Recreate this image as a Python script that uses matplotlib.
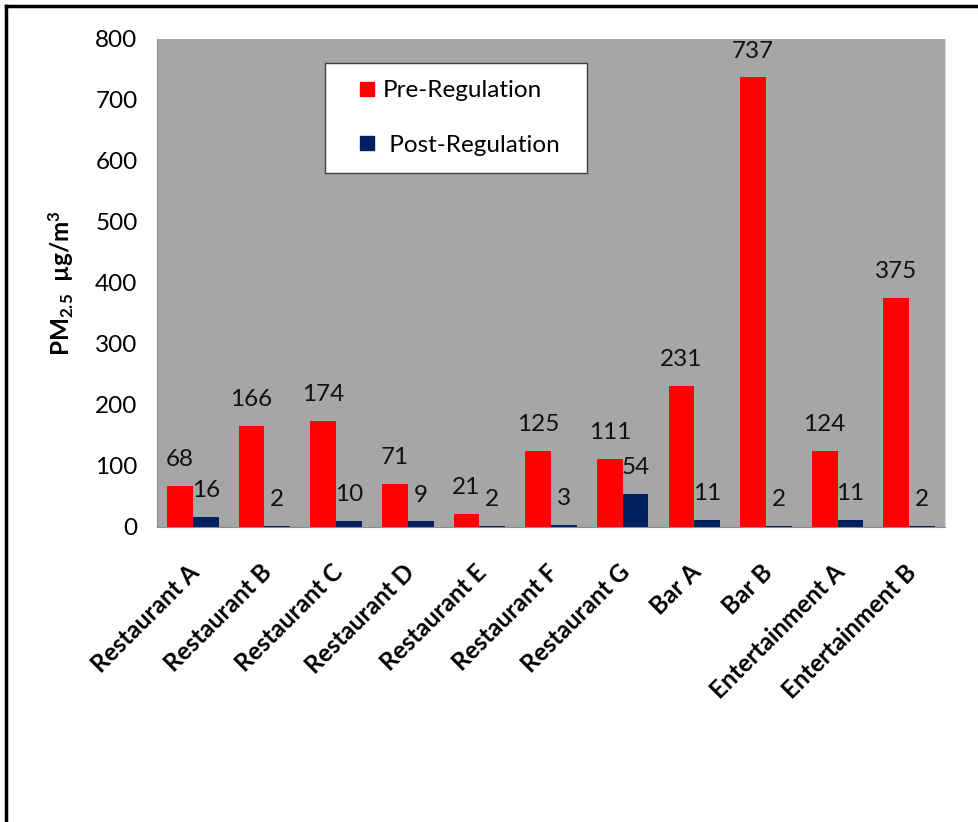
import matplotlib
matplotlib.use("Agg")
import matplotlib.pyplot as plt
import matplotlib.transforms as mtransforms
from matplotlib.lines import Line2D
import numpy as np

# Data
venues = ["Restaurant A", "Restaurant B", "Restaurant C", "Restaurant D",
          "Restaurant E", "Restaurant F", "Restaurant G", "Bar A", "Bar B",
          "Entertainment A", "Entertainment B"]
pre_regulation = [68, 166, 174, 71, 21, 125, 111, 231, 737, 124, 375]
post_regulation = [16, 2, 10, 9, 2, 3, 54, 11, 2, 11, 2]
y_ticks = [0, 100, 200, 300, 400, 500, 600, 700, 800]

plt.rcParams["font.family"] = ["Lato", "DejaVu Sans"]
plt.rcParams["mathtext.default"] = "regular"

RED = "#FF0000"
NAVY = "#002060"
FS = 17.5

fig = plt.figure(figsize=(9.79, 8.22), dpi=100)
ax = fig.add_axes([0.1604, 0.3589, 0.8049, 0.5937])
ax.set_facecolor("#A6A6A6")

x = np.arange(len(venues))
width = 0.36
bars_pre = ax.bar(x - width / 2, pre_regulation, width, color=RED, zorder=2)
bars_post = ax.bar(x + width / 2, post_regulation, width, color=NAVY, zorder=2)

# Value labels above each bar
for bars in (bars_pre, bars_post):
    for b in bars:
        ax.annotate(f"{int(b.get_height())}",
                    (b.get_x() + b.get_width() / 2, b.get_height()),
                    xytext=(0, 19), textcoords="offset points",
                    ha="center", va="center", fontsize=FS, color="#111111",
                    zorder=3)

ax.set_xlim(-0.5, len(venues) - 0.5)
ax.set_ylim(0, 800)
ax.set_yticks(y_ticks)
ax.tick_params(axis="y", length=0, pad=14, labelsize=FS)
ax.tick_params(axis="x", length=0, pad=24)

ax.set_xticks(x)
ax.set_xticklabels(venues, rotation=45, ha="right", va="top",
                   rotation_mode="anchor", fontsize=FS, fontweight="bold")
shift = mtransforms.ScaledTranslation(-0.05, 0, fig.dpi_scale_trans)
for lbl in ax.get_xticklabels():
    lbl.set_transform(lbl.get_transform() + shift)

ax.set_ylabel("PM$_{2.5}$  µg/m$^{3}$", fontsize=FS, fontweight="bold",
              labelpad=14)

for side in ("left", "bottom"):
    ax.spines[side].set_color("#8C8C8C")
ax.spines["right"].set_color("#D9D9D9")
ax.spines["top"].set_visible(False)

# Legend with square markers
handles = [Line2D([], [], ls="none", marker="s", markersize=10,
                  color=RED),
           Line2D([], [], ls="none", marker="s", markersize=10,
                  color=NAVY)]
leg = ax.legend(handles, ["Pre-Regulation", " Post-Regulation"],
                loc="upper left",
                bbox_to_anchor=(0.213, 0.951, 262 / 788, 0.0),
                mode="expand", fontsize=FS, frameon=True, fancybox=False,
                framealpha=1, edgecolor="#404040", handlelength=2.0,
                labelspacing=1.37, borderpad=0.72, borderaxespad=0,
                handletextpad=-0.33)
leg.get_frame().set_linewidth(1.0)

# Outer frame (left and top edges)
fig.add_artist(Line2D([6 / 979, 6 / 979], [0, 1 - 6 / 822],
                      transform=fig.transFigure, color="black", lw=2.5))
fig.add_artist(Line2D([6 / 979, 1], [1 - 6 / 822, 1 - 6 / 822],
                      transform=fig.transFigure, color="black", lw=2.5))

fig.savefig("out.png", dpi=100)
